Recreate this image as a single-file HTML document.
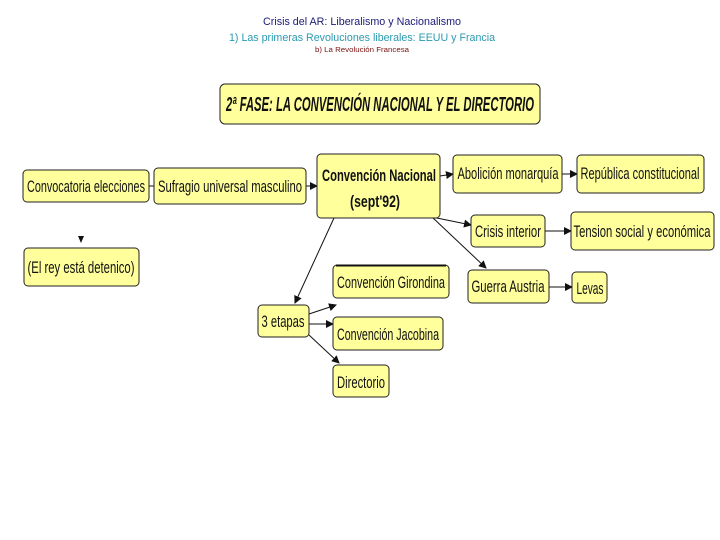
<!DOCTYPE html>
<html><head><meta charset="utf-8"><style>
html,body{margin:0;padding:0;background:#fff;width:720px;height:540px;overflow:hidden}
svg{display:block}
text{font-family:"Liberation Sans Narrow","Liberation Sans",sans-serif}
.b{fill:#ffff9c;stroke:#222;stroke-width:1}
.t{font-size:17px;fill:#111}
.l{stroke:#111;stroke-width:1;fill:none}
</style></head><body>
<svg width="720" height="540" viewBox="0 0 720 540">
<defs><marker id="a" markerWidth="8" markerHeight="8" refX="7" refY="4" orient="auto" markerUnits="userSpaceOnUse"><path d="M0,0 L8,4 L0,8 z" fill="#111"/></marker></defs>
<text x="362" y="25" text-anchor="middle" font-size="11" fill="#1a1a7a" textLength="198" lengthAdjust="spacingAndGlyphs">Crisis del AR: Liberalismo y Nacionalismo</text>
<text x="362" y="41" text-anchor="middle" font-size="11" fill="#2a9ab0" textLength="266" lengthAdjust="spacingAndGlyphs">1) Las primeras Revoluciones liberales: EEUU y Francia</text>
<text x="362" y="52" text-anchor="middle" font-size="7" fill="#7a1010" textLength="94" lengthAdjust="spacingAndGlyphs">b) La Revolución Francesa</text>

<rect class="b" x="220" y="84" width="320" height="40" rx="5"/>
<text x="380" y="111" text-anchor="middle" font-size="20" font-weight="bold" font-style="italic" fill="#111" textLength="308" lengthAdjust="spacingAndGlyphs">2ª FASE: LA CONVENCIÓN NACIONAL Y EL DIRECTORIO</text>

<!-- lines -->
<line class="l" x1="149" y1="186" x2="154" y2="186"/>
<line class="l" x1="306" y1="186" x2="317" y2="186" marker-end="url(#a)"/>
<line class="l" x1="440" y1="176" x2="453" y2="174" marker-end="url(#a)"/>
<line class="l" x1="562" y1="174" x2="577" y2="174" marker-end="url(#a)"/>
<line class="l" x1="432" y1="217" x2="471" y2="225" marker-end="url(#a)"/>
<line class="l" x1="432" y1="217" x2="486" y2="268" marker-end="url(#a)"/>
<line class="l" x1="545" y1="231" x2="571" y2="231" marker-end="url(#a)"/>
<line class="l" x1="549" y1="287" x2="572" y2="287" marker-end="url(#a)"/>
<line class="l" x1="334" y1="218" x2="295" y2="303" marker-end="url(#a)"/>
<line class="l" x1="309" y1="314" x2="336" y2="305" marker-end="url(#a)"/>
<line class="l" x1="309" y1="324" x2="333" y2="324" marker-end="url(#a)"/>
<line class="l" x1="309" y1="335" x2="339" y2="363" marker-end="url(#a)"/>
<path d="M78,236 L84,236 L81,243 z" fill="#111"/>

<!-- boxes -->
<rect class="b" x="23" y="170" width="126" height="32" rx="4"/>
<text class="t" x="86" y="192" text-anchor="middle" textLength="118" lengthAdjust="spacingAndGlyphs">Convocatoria elecciones</text>
<rect class="b" x="154" y="168" width="152" height="36" rx="4"/>
<text class="t" x="230" y="192" text-anchor="middle" textLength="144" lengthAdjust="spacingAndGlyphs">Sufragio universal masculino</text>
<rect class="b" x="317" y="154" width="123" height="64" rx="4"/>
<text class="t" x="379" y="181" text-anchor="middle" font-weight="bold" textLength="114" lengthAdjust="spacingAndGlyphs">Convención Nacional</text>
<text class="t" x="375" y="207" text-anchor="middle" font-weight="bold" textLength="50" lengthAdjust="spacingAndGlyphs">(sept'92)</text>
<rect class="b" x="453" y="155" width="109" height="38" rx="4"/>
<text class="t" x="508" y="179" text-anchor="middle" textLength="101" lengthAdjust="spacingAndGlyphs">Abolición monarquía</text>
<rect class="b" x="577" y="155" width="127" height="38" rx="4"/>
<text class="t" x="640" y="179" text-anchor="middle" textLength="119" lengthAdjust="spacingAndGlyphs">República constitucional</text>
<rect class="b" x="471" y="215" width="74" height="32" rx="4"/>
<text class="t" x="508" y="237" text-anchor="middle" textLength="66" lengthAdjust="spacingAndGlyphs">Crisis interior</text>
<rect class="b" x="571" y="212" width="143" height="38" rx="4"/>
<text class="t" x="642" y="237" text-anchor="middle" textLength="137" lengthAdjust="spacingAndGlyphs">Tension social y económica</text>
<rect class="b" x="468" y="270" width="81" height="33" rx="4"/>
<text class="t" x="508" y="292" text-anchor="middle" textLength="73" lengthAdjust="spacingAndGlyphs">Guerra Austria</text>
<rect class="b" x="572" y="272" width="35" height="31" rx="4"/>
<text class="t" x="590" y="294" text-anchor="middle" textLength="27" lengthAdjust="spacingAndGlyphs">Levas</text>
<rect class="b" x="24" y="248" width="115" height="38" rx="4"/>
<text class="t" x="81" y="273" text-anchor="middle" textLength="107" lengthAdjust="spacingAndGlyphs">(El rey está detenico)</text>
<rect class="b" x="333" y="265" width="116" height="33" rx="4"/>
<line x1="336" y1="265.5" x2="446" y2="265.5" stroke="#111" stroke-width="2"/>
<text class="t" x="391" y="288" text-anchor="middle" textLength="108" lengthAdjust="spacingAndGlyphs">Convención Girondina</text>
<rect class="b" x="258" y="305" width="51" height="32" rx="4"/>
<text class="t" x="283" y="327" text-anchor="middle" textLength="43" lengthAdjust="spacingAndGlyphs">3 etapas</text>
<rect class="b" x="333" y="317" width="110" height="33" rx="4"/>
<text class="t" x="388" y="340" text-anchor="middle" textLength="102" lengthAdjust="spacingAndGlyphs">Convención Jacobina</text>
<rect class="b" x="333" y="365" width="56" height="32" rx="4"/>
<text class="t" x="361" y="388" text-anchor="middle" textLength="48" lengthAdjust="spacingAndGlyphs">Directorio</text>
</svg>
</body></html>
